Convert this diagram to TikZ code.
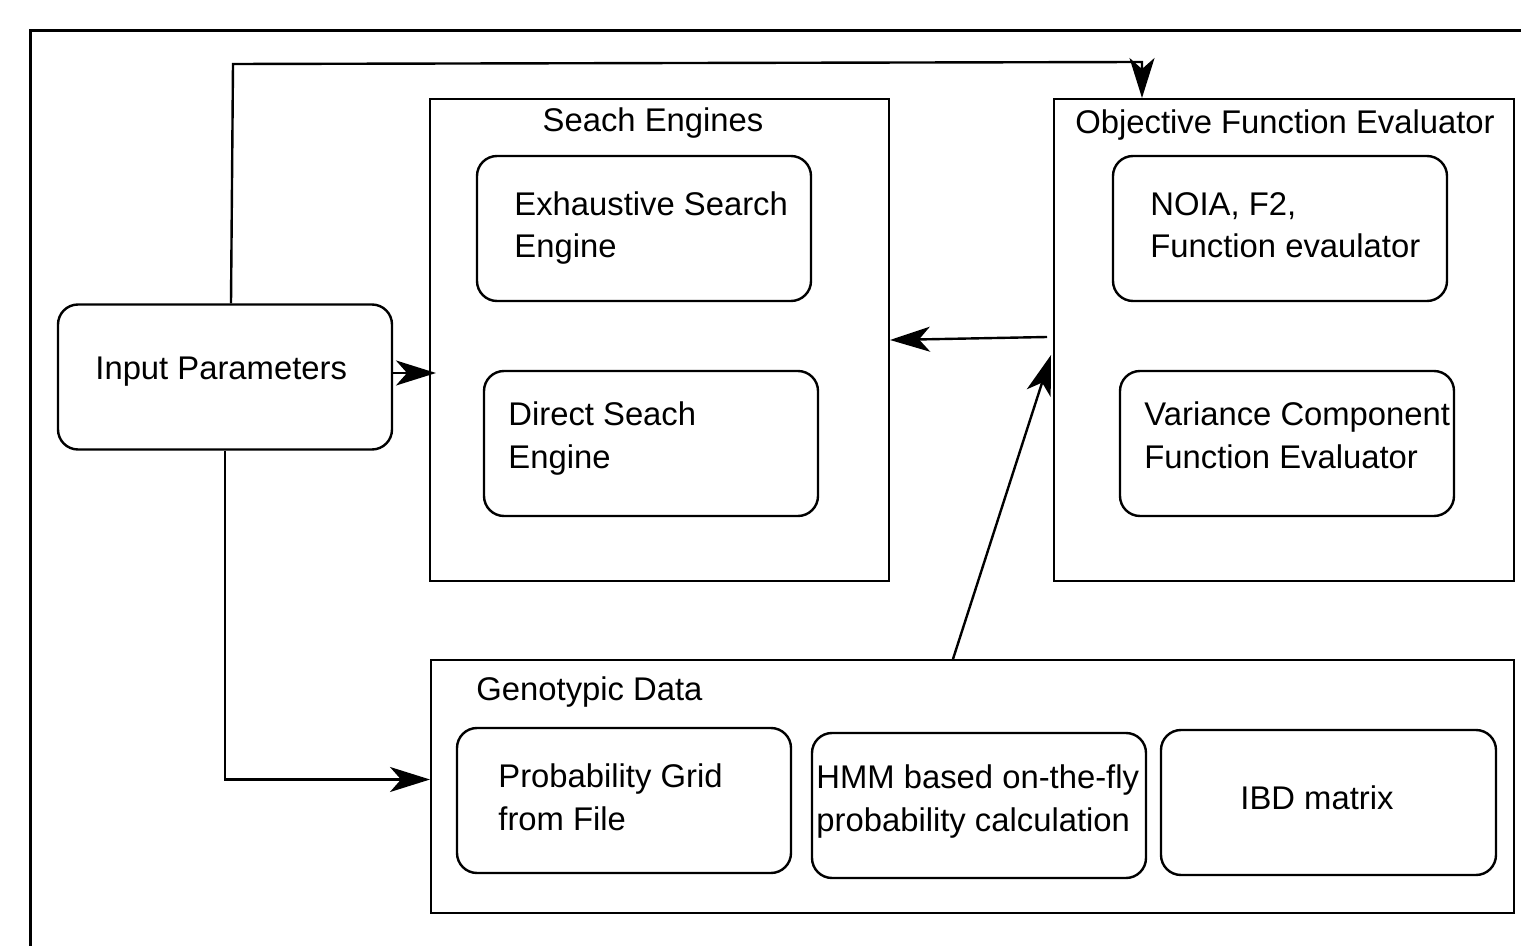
\documentclass[tikz,border=0pt]{standalone}
\usepackage{fontspec}
\setmainfont{Liberation Sans}
\usetikzlibrary{arrows.meta,calc}
\begin{document}
\begin{tikzpicture}[x=0.5pt,y=-0.5pt,
  frame/.style={draw=black,line width=1pt,inner sep=0pt},
  rbox/.style={draw=black,line width=1.2pt,rounded corners=10pt,inner sep=0pt,minimum width=167pt,minimum height=72.5pt},
  lbl/.style={anchor=base west,inner sep=0pt,font=\fontsize{16.4}{20}\selectfont},
  clbl/.style={anchor=base,inner sep=0pt,font=\fontsize{16.4}{20}\selectfont},
  conn/.style={draw=black,line width=1.2pt,-{Stealth[length=20pt,width=12.5pt,inset=5.5pt]}}
]
\useasboundingbox (0,0) rectangle (1521,946);
% outer frame (clipped at right and bottom)
\draw[line width=1.5pt] (30,946) -- (30,31) -- (1521,31);

% containers
\node[frame,minimum width=229.5pt,minimum height=241pt] (se) at (659.5,340) {};
\node[frame,minimum width=230pt,minimum height=241pt] (ofe) at (1284,340) {};
\node[frame,minimum width=541.5pt,minimum height=126.5pt] (gen) at (972.5,786.5) {};

% rounded boxes
\node[rbox] (inp) at (225,377) {};
\node[rbox] (exh) at (644,228.5) {};
\node[rbox] (dir) at (651,443.5) {};
\node[rbox] (noia) at (1280,228.5) {};
\node[rbox] (var) at (1287,443.5) {};
\node[rbox] (prob) at (624,800.5) {};
\node[rbox] (hmm) at (979,805.5) {};
\node[rbox,minimum width=167.5pt] (ibd) at (1328.5,802.5) {};

% labels
\node[clbl] (seT) at (653,132) {Seach Engines};
\node[clbl] (ofeT) at (1285,134) {Objective Function Evaluator};
\node[lbl] (genT) at (476,700) {Genotypic Data};
\node[lbl] (inpT) at (95,380) {Input Parameters};
\node[lbl] (exh1) at (514,216) {Exhaustive Search};
\node[lbl] (exh2) at (514,258) {Engine};
\node[lbl] (dir1) at (508,426) {Direct Seach};
\node[lbl] (dir2) at (508,469) {Engine};
\node[lbl] (noia1) at (1150,216) {NOIA, F2,};
\node[lbl] (noia2) at (1150,258) {Function evaulator};
\node[lbl] (var1) at (1144,426) {Variance Component};
\node[lbl] (var2) at (1144,469) {Function Evaluator};
\node[lbl] (prob1) at (498,787) {Probability Grid};
\node[lbl] (prob2) at (498,830) {from File};
\node[lbl] (hmm1) at (816,788) {HMM based on-the-fly};
\node[lbl] (hmm2) at (816,831) {probability calculation};
\node[clbl] (ibdT) at (1317,809) {IBD matrix};

% connectors
\coordinate (b1) at (233,64);
\coordinate (b2) at (1142,62);
\draw[conn] ([xshift=3pt]inp.north) -- (b1) -- (b2) -- ([xshift=-71pt]ofe.north);
\draw[conn] ([yshift=2pt]inp.east) -- ([xshift=3.5pt,yshift=2pt]inp.east -| se.west);
\draw[conn] ([xshift=-3pt,yshift=1.5pt]ofe.west) -- (se.east);
\draw[conn] ([xshift=-9.75pt]gen.north) -- ([xshift=-1pt,yshift=-7.5pt]ofe.west);
\draw[conn] (inp.south) |- ([yshift=3.5pt]gen.west);
\end{tikzpicture}
\end{document}
